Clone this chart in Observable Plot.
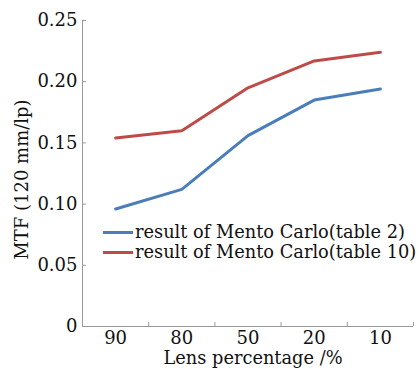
<!DOCTYPE html>
<html>
<head>
<meta charset="utf-8">
<script src="https://cdn.jsdelivr.net/npm/d3@7"></script>
<script src="https://cdn.jsdelivr.net/npm/@observablehq/plot@0.6"></script>
<style>
  html, body { margin: 0; padding: 0; background: #fff; }
  #wrap { position: relative; width: 420px; height: 369px; font-family: "DejaVu Serif", serif; }
  #legend { position: absolute; left: 103px; top: 222px; font-size: 17.8px; line-height: 20px; color: #111; }
  #legend .item { display: flex; align-items: center; white-space: nowrap; }
  #legend .sw { width: 30px; height: 3px; margin-right: 2px; }
</style>
</head>
<body>
<div id="wrap"><div id="legend"></div></div>
<script>
const categories = ["90", "80", "50", "20", "10"];
const seriesNames = ["result of Mento Carlo(table 2)", "result of Mento Carlo(table 10)"];
const table2 = [0.096, 0.112, 0.156, 0.185, 0.194];
const table10 = [0.154, 0.160, 0.195, 0.217, 0.224];
const yTicks = [0, 0.05, 0.10, 0.15, 0.20, 0.25];
const colors = ["#4a7ebb", "#be4b48"];

const data = [];
categories.forEach((c, i) => {
  data.push({i, series: seriesNames[0], v: table2[i]});
  data.push({i, series: seriesNames[1], v: table10[i]});
});
const idx = categories.map((c, i) => i);
const bounds = categories.map((c, i) => i + 0.5);

const W = 420, H = 369, mL = 82, mR = 7, mT = 20, mB = 43;
const frameW = W - mL - mR, frameH = H - mT - mB;

const plot = Plot.plot({
  width: W, height: H,
  marginLeft: mL, marginRight: mR, marginTop: mT, marginBottom: mB,
  style: {fontFamily: "DejaVu Serif, serif", fontSize: "17.5px", color: "#111", background: "#fff"},
  x: {type: "linear", domain: [-0.5, categories.length - 0.5]},
  y: {domain: [0, 0.25]},
  color: {domain: seriesNames, range: colors},
  marks: [
    Plot.axisY(yTicks, {tickSize: 0, tickPadding: 5, tickFormat: d => d === 0 ? "0" : d.toFixed(2), label: null, fontSize: 18}),
    Plot.axisX(idx, {tickSize: 0, tickPadding: 5, tickFormat: i => categories[i], label: null, fontSize: 18}),
    Plot.tickY(yTicks, {y: d => d, stroke: "#999", insetRight: frameW - 4}),
    Plot.tickX(bounds, {x: d => d, stroke: "#999", insetTop: frameH - 4}),
    Plot.ruleX([-0.5], {stroke: "#999"}),
    Plot.ruleY([0], {stroke: "#999"}),
    Plot.line(data, {x: "i", y: "v", z: "series", stroke: "series", strokeWidth: 3}),
    Plot.text(["MTF (120 mm/lp)"], {frameAnchor: "left", textAnchor: "middle", rotate: -90, dx: -60, dy: 6, fontSize: 18, fill: "#111"}),
    Plot.text(["Lens percentage /%"], {frameAnchor: "bottom", textAnchor: "middle", dx: 5, dy: 37, fontSize: 17.8, fill: "#111"})
  ]
});
document.getElementById("wrap").prepend(plot);
plot.style.position = "absolute"; plot.style.left = "0"; plot.style.top = "0";

const leg = document.getElementById("legend");
seriesNames.forEach((s, k) => {
  const it = document.createElement("div");
  it.className = "item";
  const sw = document.createElement("span");
  sw.className = "sw"; sw.style.background = colors[k];
  const t = document.createElement("span"); t.textContent = s;
  it.append(sw, t); leg.append(it);
});
</script>
</body>
</html>
